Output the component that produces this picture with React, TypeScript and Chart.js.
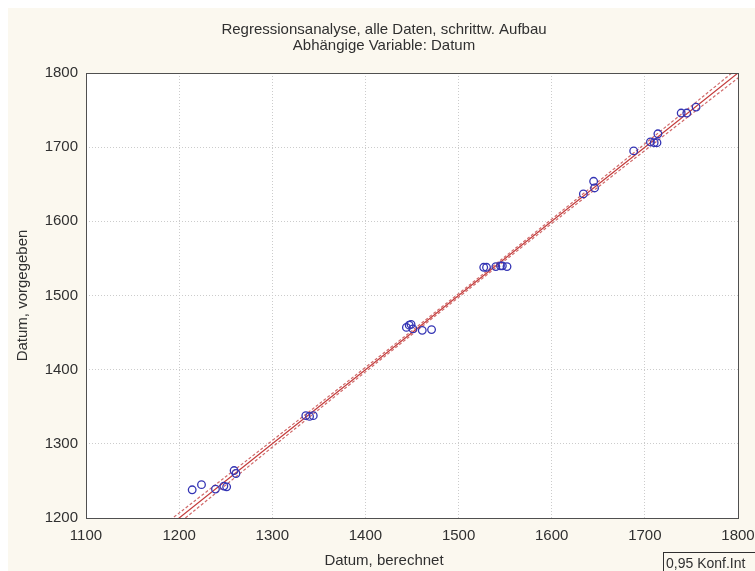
import React, { useEffect, useRef } from "react";
import { Chart, registerables } from "chart.js";

Chart.register(...registerables);

// Texts
const TITLE_LINES = ["Regressionsanalyse, alle Daten, schrittw. Aufbau", "Abhängige Variable: Datum"];
const X_TITLE = "Datum, berechnet";
const Y_TITLE = "Datum, vorgegeben";
const LEGEND_TEXT = "0,95 Konf.Int";

// Axis ticks
const X_TICKS = [1100, 1200, 1300, 1400, 1500, 1600, 1700, 1800];
const Y_TICKS = [1200, 1300, 1400, 1500, 1600, 1700, 1800];

// Observations: computed date (x) vs. given date (y)
const datumBerechnet = [
  1214, 1224, 1239, 1248, 1251, 1259, 1261,
  1336, 1340, 1344,
  1444, 1447, 1449, 1451, 1461, 1471,
  1527, 1530, 1540, 1545, 1547, 1552,
  1634, 1645, 1646, 1688, 1706, 1710, 1713, 1714, 1739, 1745, 1755,
];
const datumVorgegeben = [
  1238, 1245, 1239, 1243, 1242, 1264, 1260,
  1338, 1337, 1338,
  1457, 1460, 1461, 1455, 1453, 1454,
  1538, 1538, 1539, 1540, 1540, 1539,
  1637, 1654, 1645, 1695, 1707, 1706, 1706, 1718, 1746, 1746, 1754,
];

// Regression line and 0.95 confidence band
const fitX = [1190, 1300, 1400, 1500, 1600, 1700, 1810];
const fitY = [1190, 1300, 1400, 1500, 1600, 1700, 1810];
const bandUpper = [1197, 1304.5, 1403, 1502.5, 1603, 1704.5, 1817];
const bandLower = [1183, 1295.5, 1397, 1497.5, 1597, 1695.5, 1803];

const BG = "#fbf8ef";
const TEXT = "#303030";
const FONT = "'Liberation Sans', Arial, sans-serif";

const pairs = (xs: number[], ys: number[]) => xs.map((x, i) => ({ x, y: ys[i] }));

const decorPlugin = {
  id: "decor",
  beforeDraw(chart: any) {
    const { ctx, width, height, chartArea: a } = chart;
    ctx.save();
    ctx.fillStyle = BG;
    ctx.fillRect(0, 0, width, height);
    ctx.fillStyle = "#ffffff";
    ctx.fillRect(a.left, a.top, a.right - a.left, a.bottom - a.top);
    ctx.restore();
  },
  afterDraw(chart: any) {
    const { ctx, chartArea: a } = chart;
    ctx.save();
    // frame
    ctx.strokeStyle = "#505050";
    ctx.lineWidth = 1;
    ctx.strokeRect(Math.round(a.left) + 0.5, Math.round(a.top) + 0.5, Math.round(a.right - a.left), Math.round(a.bottom - a.top));

    ctx.fillStyle = TEXT;
    ctx.font = `15px ${FONT}`;
    ctx.textAlign = "center";
    ctx.textBaseline = "middle";
    ctx.fillText(TITLE_LINES[0], 376, 22);
    ctx.fillText(TITLE_LINES[1], 376, 38);
    ctx.fillText(X_TITLE, 376, 553);

    ctx.save();
    ctx.translate(15, (a.top + a.bottom) / 2);
    ctx.rotate(-Math.PI / 2);
    ctx.fillText(Y_TITLE, 0, 0);
    ctx.restore();

    // legend box (runs past the canvas edge)
    ctx.strokeStyle = "#303030";
    ctx.strokeRect(655.5, 544.5, 120, 30);
    ctx.font = `14px ${FONT}`;
    ctx.textAlign = "left";
    ctx.textBaseline = "alphabetic";
    ctx.fillText(LEGEND_TEXT, 658, 560);
    ctx.restore();
  },
};

export default function App() {
  const ref = useRef<HTMLCanvasElement>(null);

  useEffect(() => {
    if (!ref.current) return;
    const gridCfg = { color: "#cccccc", lineWidth: 1, drawTicks: false };
    const borderCfg = { display: false, dash: [1, 2] };
    const tickFont = { family: FONT, size: 15 };
    const plain = (v: any) => String(v);

    const chart = new Chart(ref.current, {
      type: "scatter",
      data: {
        datasets: [
          {
            label: "Daten",
            data: pairs(datumBerechnet, datumVorgegeben),
            showLine: false,
            pointStyle: "circle",
            pointRadius: 3.8,
            pointBorderWidth: 1.3,
            pointBackgroundColor: "rgba(0,0,0,0)",
            pointBorderColor: "#3434b4",
            order: 0,
          },
          {
            label: "Regression",
            data: pairs(fitX, fitY),
            showLine: true,
            borderColor: "#c43c3c",
            borderWidth: 1.2,
            pointRadius: 0,
            order: 1,
          },
          {
            label: "Obere Grenze",
            data: pairs(fitX, bandUpper),
            showLine: true,
            borderColor: "#d06a6a",
            borderWidth: 1.2,
            borderDash: [3, 2],
            tension: 0.4,
            pointRadius: 0,
            order: 2,
          },
          {
            label: "Untere Grenze",
            data: pairs(fitX, bandLower),
            showLine: true,
            borderColor: "#d06a6a",
            borderWidth: 1.2,
            borderDash: [3, 2],
            tension: 0.4,
            pointRadius: 0,
            order: 3,
          },
        ],
      },
      options: {
        responsive: false,
        animation: false,
        layout: { padding: { left: 0, top: 65, right: 17, bottom: 0 } },
        plugins: { legend: { display: false }, tooltip: { enabled: false }, title: { display: false } },
        scales: {
          x: {
            type: "linear",
            min: X_TICKS[0],
            max: X_TICKS[X_TICKS.length - 1],
            afterBuildTicks: (s: any) => { s.ticks = X_TICKS.map((v) => ({ value: v })); },
            afterFit: (s: any) => {
              s.height = 53;
              s.paddingLeft = 0;
              s.paddingRight = 0;
            },
            grid: gridCfg,
            border: borderCfg,
            ticks: { color: TEXT, font: tickFont, padding: 9, maxRotation: 0, autoSkip: false, callback: plain },
          },
          y: {
            type: "linear",
            min: Y_TICKS[0],
            max: Y_TICKS[Y_TICKS.length - 1],
            afterBuildTicks: (s: any) => { s.ticks = Y_TICKS.map((v) => ({ value: v })); },
            afterFit: (s: any) => {
              s.width = 78;
              s.paddingTop = 0;
              s.paddingBottom = 0;
            },
            grid: gridCfg,
            border: borderCfg,
            ticks: { color: TEXT, font: tickFont, padding: 8, autoSkip: false, callback: plain },
          },
        },
      },
      plugins: [decorPlugin],
    } as any);
    return () => chart.destroy();
  }, []);

  return (
    <div style={{ position: "fixed", left: 8, top: 8, width: 747, height: 563, overflow: "hidden" }}>
      <canvas ref={ref} width={747} height={563} style={{ display: "block" }} />
    </div>
  );
}
